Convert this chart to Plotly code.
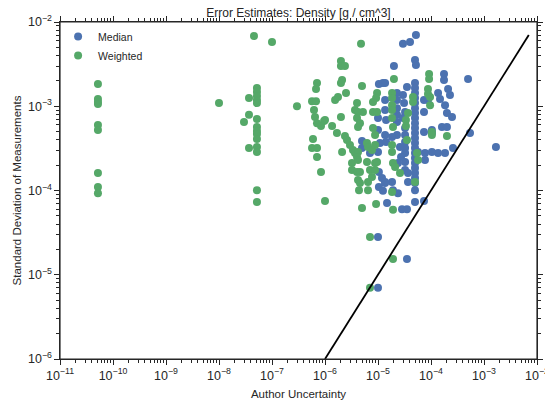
import plotly.graph_objects as go

# ---- data -------------------------------------------------------------
median_x = [
    5.2e-5, 4.02e-5, 2.96e-5, 4.99e-5, 5.2e-5, 2.0e-5, 5.0e-4, 1.76e-4, 1.76e-4,
    1.04e-5, 1.24e-5, 1.36e-5,
    4.99e-5, 4.99e-5, 4.99e-5, 4.99e-5, 4.99e-5, 4.99e-5, 4.99e-5, 4.99e-5,
    4.99e-5, 4.99e-5, 4.99e-5, 4.99e-5, 4.99e-5, 4.99e-5, 4.99e-5, 4.99e-5,
    4.99e-5, 4.99e-5, 4.99e-5, 4.99e-5, 4.99e-5, 4.99e-5,
    3.52e-5, 1.36e-4, 2.1e-4, 2.28e-4, 1.48e-4, 1.84e-4, 2.0e-4, 2.49e-4,
    7.38e-5, 8.77e-5, 7.38e-5,
    2.28e-5, 2.28e-5, 2.28e-5, 2.28e-5, 2.28e-5, 2.28e-5,
    2.96e-5, 3.1e-5, 3.24e-5, 2.96e-5, 3.24e-5, 3.24e-5, 3.24e-5, 3.24e-5,
    3.24e-5, 3.24e-5, 3.24e-5,
    1.61e-4, 2.0e-4, 1.04e-4, 1.04e-4, 7.38e-5, 5.44e-4, 2.6e-4,
    1.84e-4, 1.36e-4, 1.04e-4, 7.7e-5, 5.69e-5, 7.7e-5,
    1.84e-5, 2.6e-5, 2.72e-5, 2.38e-5, 3.68e-5, 3.68e-5,
    1.84e-5, 1.36e-5, 1.92e-5, 2.38e-5, 1.48e-5, 4.99e-5, 7.38e-5,
    2.84e-5, 3.52e-5, 1.0e-5, 3.52e-5, 1.0e-5, 1.68e-3,
    1.0e-5, 1.36e-5, 4.99e-6, 4.99e-6, 7.06e-6, 1.0e-5, 1.09e-5, 1.42e-5,
    1.04e-5, 1.19e-5, 1.36e-5, 1.04e-5, 1.24e-5, 1.0e-5,
    1.36e-5, 1.36e-5, 1.42e-5,
]
median_y = [
    7.0e-3, 5.8e-3, 5.5e-3, 3.54e-3, 3.09e-3, 3.0e-3, 2.1e-3, 2.42e-3, 2.05e-3,
    1.84e-3, 1.89e-3, 1.89e-3,
    1.89e-3, 1.65e-3, 1.44e-3, 1.25e-3, 1.09e-3, 9.5e-4, 8.3e-4, 7.25e-4,
    6.3e-4, 5.52e-4, 4.81e-4, 4.2e-4, 3.66e-4, 3.19e-4, 2.79e-4, 2.43e-4,
    2.12e-4, 1.85e-4, 1.61e-4, 1.41e-4, 1.23e-4, 1.01e-4,
    1.69e-3, 1.44e-3, 1.6e-3, 1.36e-3, 1.22e-3, 1.03e-3, 8.3e-4, 7.45e-4,
    1.19e-3, 1.19e-3, 8.55e-4,
    1.44e-3, 1.19e-3, 9.5e-4, 7.9e-4, 6.5e-4, 4.56e-4,
    1.36e-3, 1.09e-3, 8.55e-4, 7.25e-4, 5.52e-4, 4.56e-4, 3.76e-4, 3.19e-4,
    2.79e-4, 2.18e-4, 1.75e-4,
    5.67e-4, 5.67e-4, 5.23e-4, 4.81e-4, 4.95e-4, 4.81e-4, 3.19e-4,
    2.79e-4, 2.79e-4, 2.86e-4, 2.79e-4, 2.86e-4, 2.3e-4,
    4.31e-4, 3.28e-4, 2.5e-4, 2.12e-4, 1.61e-4, 1.26e-4,
    1.26e-4, 1.23e-4, 1.01e-4, 9.3e-5, 7.1e-5, 7.3e-5, 7.5e-5,
    6.0e-5, 6.0e-5, 2.8e-5, 1.54e-5, 7.0e-6, 3.28e-4,
    5.23e-4, 4.56e-4, 3.87e-4, 3.19e-4, 2.79e-4, 2.86e-4, 3.66e-4, 3.76e-4,
    1.66e-4, 1.41e-4, 1.26e-4, 1.1e-4, 9.9e-5, 7.25e-4,
    1.19e-3, 9.0e-4, 6.87e-4,
]

weighted_x = [
    5.2e-11, 5.2e-11, 5.2e-11, 5.2e-11, 5.2e-11, 5.2e-11, 5.2e-11, 5.2e-11, 5.2e-11,
    1.0e-8, 4.57e-8, 1.0e-7,
    5.2e-8, 5.2e-8, 5.2e-8, 5.2e-8, 5.2e-8, 5.2e-8, 5.2e-8, 5.2e-8, 5.2e-8,
    5.2e-8, 5.2e-8, 5.2e-8, 5.2e-8, 5.2e-8,
    3.68e-8, 3.68e-8, 2.96e-8, 3.68e-8, 2.96e-7,
    5.69e-7, 6.77e-7, 7.06e-7, 6.77e-7, 6.2e-7, 6.48e-7, 7.06e-7, 8.4e-7, 9.6e-7,
    5.94e-7, 5.69e-7, 7.06e-7, 7.06e-7, 8.4e-7, 1.0e-6,
    1.36e-6, 1.68e-6, 2.0e-6, 2.0e-6, 2.38e-6, 2.1e-6, 2.0e-6,
    1.76e-6, 1.55e-6, 2.49e-6, 2.0e-6, 2.38e-6, 2.6e-6, 2.1e-6,
    2.96e-6, 3.37e-6, 3.68e-6, 4.2e-6, 3.23e-6, 3.23e-6, 4.02e-6, 4.57e-6,
    4.02e-6, 3.68e-6, 4.2e-6, 5.2e-6, 8.05e-6, 9.6e-6, 4.02e-6, 4.99e-6, 4.78e-6,
    9.6e-6, 9.2e-6, 8.05e-6, 1.0e-6, 4.2e-6, 4.57e-6, 8.05e-6, 8.8e-6,
    6.2e-6, 6.48e-6, 7.7e-6, 8.8e-6, 4.02e-6, 4.2e-6, 6.2e-6,
    7.06e-6, 8.8e-6, 8.8e-6, 9.6e-6, 4.2e-6, 4.57e-6, 6.48e-6, 7.7e-6,
    4.38e-6, 6.48e-6, 4.99e-6, 9.2e-6, 7.06e-6, 1.92e-5, 7.06e-6, 1.92e-5,
    2.0e-5, 1.84e-5, 1.84e-5, 1.84e-5, 1.84e-5, 1.84e-5,
    1.84e-5, 1.84e-5, 1.92e-5, 2.1e-5, 2.6e-5, 1.84e-5,
    4.57e-5, 4.57e-5, 3.68e-5, 3.37e-5, 3.52e-5, 5.44e-5, 5.69e-5, 4.99e-5,
    8.77e-5, 8.77e-5, 9.2e-5, 9.2e-5, 9.6e-5, 9.6e-5, 1.04e-4, 1.04e-4, 2.0e-4,
    1.92e-5, 3.37e-5,
]
weighted_y = [
    1.84e-3, 1.22e-3, 1.12e-3, 1.06e-3, 5.99e-4, 5.23e-4, 1.61e-4, 1.1e-4, 9.3e-5,
    1.09e-3, 6.8e-3, 5.8e-3,
    1.65e-3, 1.48e-3, 1.32e-3, 1.19e-3, 1.09e-3, 7.06e-4, 5.67e-4, 5.08e-4, 4.69e-4,
    4.08e-4, 3.28e-4, 2.86e-4, 1.01e-4, 7.3e-5,
    1.25e-3, 7.9e-4, 6.5e-4, 3.19e-4, 1.0e-3,
    1.15e-3, 1.15e-3, 1.89e-3, 1.6e-3, 9.0e-4, 7.45e-4, 6.3e-4, 5.83e-4, 6.7e-4,
    4.08e-4, 3.19e-4, 3.19e-4, 2.5e-4, 1.66e-4, 7.5e-5,
    5.83e-4, 4.81e-4, 3.44e-3, 3.0e-3, 3.0e-3, 2.05e-3, 1.89e-3,
    1.29e-3, 1.19e-3, 1.44e-3, 7.45e-4, 4.43e-4, 3.97e-4, 2.86e-4,
    3.47e-4, 3.03e-4, 2.79e-4, 2.86e-4, 2.12e-4, 1.75e-4, 1.66e-4, 1.66e-4,
    1.09e-3, 9.0e-4, 8.55e-4, 8.55e-4, 8.55e-4, 8.55e-4, 7.25e-4, 1.74e-3, 5.5e-3,
    1.44e-3, 1.25e-3, 1.12e-3, 6.87e-4, 5.67e-4, 6.3e-4, 5.52e-4, 4.56e-4,
    3.66e-4, 3.28e-4, 3.03e-4, 3.47e-4, 2.5e-4, 2.3e-4, 2.18e-4,
    1.75e-4, 1.75e-4, 2.12e-4, 2.18e-4, 1.33e-4, 1.23e-4, 1.26e-4, 1.45e-4,
    1.01e-4, 1.01e-4, 6.2e-5, 6.9e-5, 2.8e-5, 1.54e-5, 7.0e-6, 5.9e-5,
    2.1e-3, 1.44e-3, 1.25e-3, 1.03e-3, 9.0e-4, 7.25e-4,
    3.47e-4, 2.86e-4, 2.12e-4, 1.9e-4, 1.61e-4, 9.6e-5,
    1.29e-3, 1.12e-3, 8.3e-4, 6.87e-4, 3.97e-4, 2.79e-4, 2.3e-4, 1.26e-4,
    1.6e-3, 1.4e-3, 2.42e-3, 2.1e-3, 1.29e-3, 1.03e-3, 4.95e-4, 4.56e-4, 4.43e-4,
    5.67e-4, 5.83e-4,
]

# one-to-one reference line
line_x = [1e-6, 7e-3]
line_y = [1e-6, 7e-3]

# ---- figure -----------------------------------------------------------
TXT = "#262626"
fig = go.Figure()
fig.add_trace(go.Scatter(x=median_x, y=median_y, mode="markers", name="Median",
                         marker=dict(color="#4C72B0", size=8)))
fig.add_trace(go.Scatter(x=weighted_x, y=weighted_y, mode="markers", name="Weighted",
                         marker=dict(color="#55A868", size=8)))
fig.add_trace(go.Scatter(x=line_x, y=line_y, mode="lines", showlegend=False,
                         line=dict(color="black", width=1.8)))

axis_common = dict(
    type="log", showgrid=False, zeroline=False, showline=True, linecolor=TXT,
    linewidth=1.2, mirror="allticks", ticks="outside", ticklen=5, tickwidth=1,
    tickcolor=TXT, dtick=1, exponentformat="power", automargin=False,
    ticklabeloverflow="allow",
    tickfont=dict(size=10, color=TXT),
    minor=dict(ticks="outside", ticklen=3, tickwidth=1, tickcolor=TXT, dtick="D1"),
)
fig.update_xaxes(range=[-11, -2], title=dict(text="Author Uncertainty",
                 font=dict(size=11.5, color=TXT), standoff=8), **axis_common)
fig.update_yaxes(range=[-6, -2], title=dict(text="Standard Deviation of Measurements",
                 font=dict(size=11.5, color=TXT), standoff=3), **axis_common)

fig.update_layout(
    width=545, height=402,
    margin=dict(l=60, r=8, t=22, b=43),
    paper_bgcolor="white", plot_bgcolor="white",
    font=dict(family="Liberation Sans, Arial, sans-serif", color=TXT),
    title=dict(text="Error Estimates: Density [g / cm^3]", x=0.5, xref="paper",
               yref="container", y=0.968, yanchor="middle",
               font=dict(size=12, color=TXT)),
    legend=dict(x=-0.004, y=1.0, xanchor="left", yanchor="top",
                bgcolor="rgba(0,0,0,0)", font=dict(size=10.5, color=TXT),
                itemwidth=30, tracegroupgap=0),
    shapes=[dict(type="rect", xref="paper", yref="paper", x0=0, x1=1, y0=0, y1=1,
                 line=dict(color=TXT, width=1.2), layer="above")],
    showlegend=True,
)

fig.write_html("out.html", config={"displayModeBar": False},
               post_script="document.body.style.margin='0';"
                           "document.body.style.overflow='hidden';")
